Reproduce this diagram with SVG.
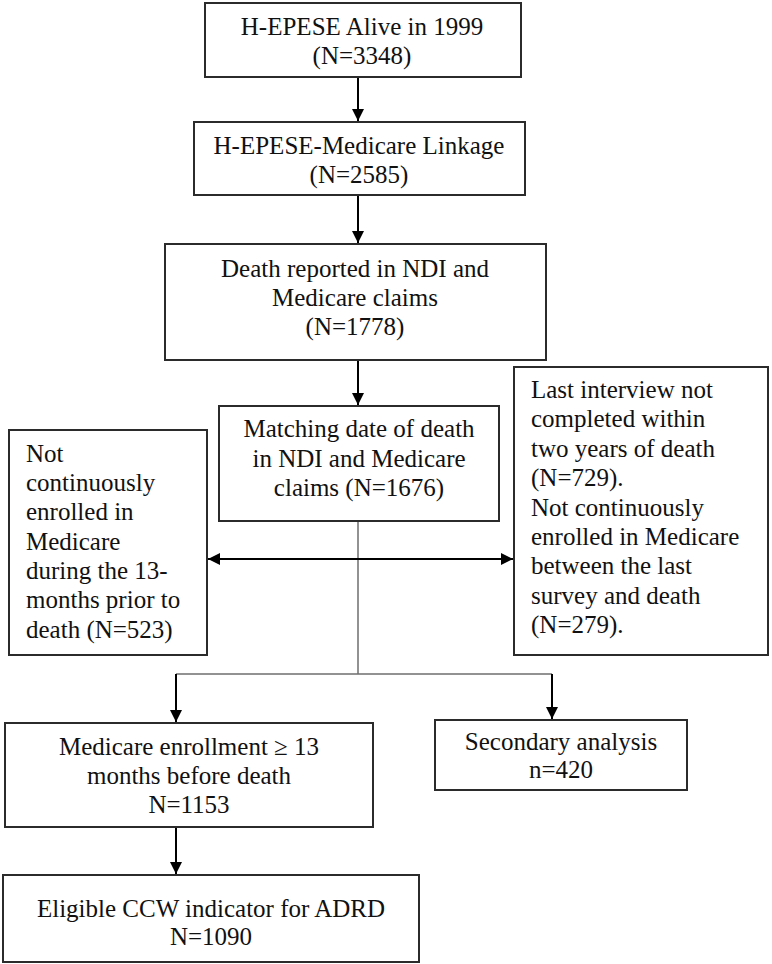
<svg xmlns="http://www.w3.org/2000/svg" width="772" height="964" viewBox="0 0 772 964">
<style>
.box{fill:#fff;stroke:#2b2b2b;stroke-width:2}
.t{font-family:"Liberation Serif","Times New Roman",serif;font-size:25px;fill:#111}
.c{text-anchor:middle}
.arr{stroke:#000;stroke-width:2;fill:none}
.thin{stroke:#6e6e6e;stroke-width:1.5;fill:none}
</style>
<defs>
<marker id="ah" markerUnits="userSpaceOnUse" markerWidth="14" markerHeight="12" refX="12" refY="6" orient="auto-start-reverse">
<path d="M0,0 L12,6 L0,12 Z" fill="#000"/>
</marker>
</defs>
<rect width="772" height="964" fill="#fff"/>
<g id="connectors">
<line class="arr" x1="358" y1="77" x2="358" y2="121" marker-end="url(#ah)"/>
<line class="arr" x1="358" y1="195" x2="358" y2="243" marker-end="url(#ah)"/>
<line class="arr" x1="358" y1="360" x2="358" y2="405" marker-end="url(#ah)"/>
<line class="thin" x1="358" y1="521" x2="358" y2="674"/>
<line class="arr" x1="208" y1="559" x2="513" y2="559" marker-start="url(#ah)" marker-end="url(#ah)"/>
<polyline class="thin" points="176,674 552,674"/>
<line class="arr" x1="176" y1="674" x2="176" y2="722" marker-end="url(#ah)"/>
<line class="arr" x1="552" y1="674" x2="552" y2="719" marker-end="url(#ah)"/>
<line class="arr" x1="176" y1="827" x2="176" y2="874" marker-end="url(#ah)"/>
</g>
<g id="alive">
<rect class="box" x="205" y="3" width="316" height="74"/>
<text class="t c" x="362" y="35">H-EPESE Alive in 1999</text>
<text class="t c" x="362" y="64">(N=3348)</text>
</g>
<g id="linkage">
<rect class="box" x="194" y="122" width="331" height="73"/>
<text class="t c" x="359" y="154">H-EPESE-Medicare Linkage</text>
<text class="t c" x="359" y="183">(N=2585)</text>
</g>
<g id="death">
<rect class="box" x="165" y="244" width="381" height="116"/>
<text class="t c" x="355" y="277">Death reported in NDI and</text>
<text class="t c" x="355" y="306">Medicare claims</text>
<text class="t c" x="355" y="335">(N=1778)</text>
</g>
<g id="matching">
<rect class="box" x="219" y="406" width="280" height="115"/>
<text class="t c" x="359" y="437">Matching date of death</text>
<text class="t c" x="359" y="467">in NDI and Medicare</text>
<text class="t c" x="359" y="496">claims (N=1676)</text>
</g>
<g id="excluded-left">
<rect class="box" x="9" y="430" width="198" height="225"/>
<text class="t" x="26" y="462">Not</text>
<text class="t" x="26" y="491">continuously</text>
<text class="t" x="26" y="520">enrolled in</text>
<text class="t" x="26" y="550">Medicare</text>
<text class="t" x="26" y="579">during the 13-</text>
<text class="t" x="26" y="608">months prior to</text>
<text class="t" x="26" y="638">death (N=523)</text>
</g>
<g id="excluded-right">
<rect class="box" x="514" y="367" width="254" height="288"/>
<text class="t" x="531" y="398">Last interview not</text>
<text class="t" x="531" y="427">completed within</text>
<text class="t" x="531" y="457">two years of death</text>
<text class="t" x="531" y="486">(N=729).</text>
<text class="t" x="531" y="516">Not continuously</text>
<text class="t" x="531" y="545">enrolled in Medicare</text>
<text class="t" x="531" y="574">between the last</text>
<text class="t" x="531" y="604">survey and death</text>
<text class="t" x="531" y="633">(N=279).</text>
</g>
<g id="enrollment">
<rect class="box" x="5" y="723" width="368" height="104"/>
<text class="t c" x="189" y="755">Medicare enrollment ≥ 13</text>
<text class="t c" x="189" y="784">months before death</text>
<text class="t c" x="189" y="813">N=1153</text>
</g>
<g id="secondary">
<rect class="box" x="435" y="720" width="252" height="70"/>
<text class="t c" x="561" y="750">Secondary analysis</text>
<text class="t c" x="561" y="778">n=420</text>
</g>
<g id="eligible">
<rect class="box" x="3" y="875" width="416" height="87"/>
<text class="t c" x="211" y="917">Eligible CCW indicator for ADRD</text>
<text class="t c" x="211" y="945">N=1090</text>
</g>
</svg>
